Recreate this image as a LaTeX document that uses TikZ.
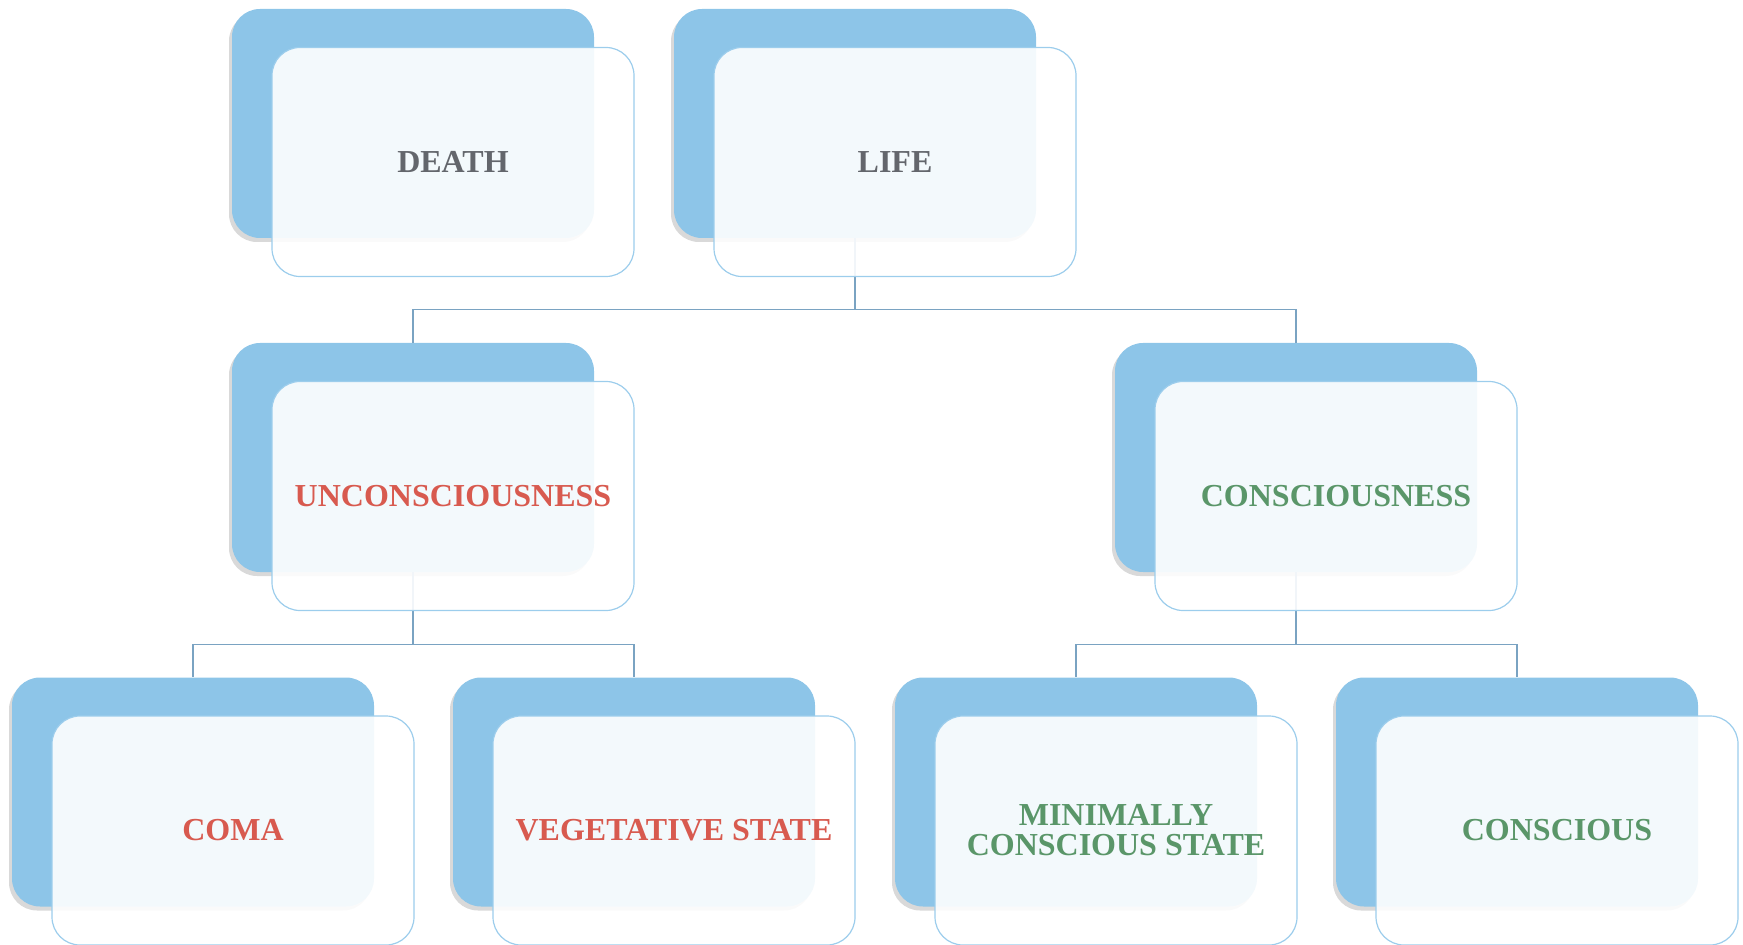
\documentclass[tikz,border=0pt]{standalone}
\usepackage{fontspec}
\setmainfont{Liberation Serif}
\usetikzlibrary{shadows}

\definecolor{cardblue}{HTML}{8DC5E8}
\definecolor{cardline}{HTML}{9CCDEC}
\definecolor{linkblue}{HTML}{7AA3C2}
\definecolor{txtgray}{HTML}{63666C}
\definecolor{txtred}{HTML}{D85A4F}
\definecolor{txtgreen}{HTML}{5A9669}

\tikzset{
	back/.style={rectangle, rounded corners=14pt, minimum width=181pt, minimum height=114.5pt,
		fill=cardblue, draw=none, drop shadow={shadow xshift=-1.5pt, shadow yshift=-2pt, opacity=0.3}},
	card/.style={rectangle, rounded corners=14pt, minimum width=181pt, minimum height=114.5pt,
		draw=cardline, line width=0.6pt, fill=white, fill opacity=0.9, text opacity=1,
		align=center, font=\fontsize{16}{15}\selectfont\bfseries, xshift=20pt, yshift=-19.25pt},
	link/.style={draw=linkblue, line width=0.8pt},
}

\begin{document}
\begin{tikzpicture}[x=0.5pt, y=-0.5pt]
	\useasboundingbox (0,0) rectangle (1743,945);

	% back cards
	\node[back] (deathB) at (413,123.5) {};
	\node[back] (lifeB) at (855,123.5) {};
	\node[back] (unconB) at (413,457.5) {};
	\node[back] (consB) at (1296,457.5) {};
	\node[back] (comaB) at (193,792) {};
	\node[back] (vegB) at (634,792) {};
	\node[back] (mcsB) at (1076,792) {};
	\node[back] (conscB) at (1517,792) {};

	% tree lines
	\draw[link] (lifeB.south) -- ++(0,71) -| (unconB.north);
	\draw[link] (lifeB.south) -- ++(0,71) -| (consB.north);
	\draw[link] (unconB.south) -- ++(0,72) -| (comaB.north);
	\draw[link] (unconB.south) -- ++(0,72) -| (vegB.north);
	\draw[link] (consB.south) -- ++(0,72) -| (mcsB.north);
	\draw[link] (consB.south) -- ++(0,72) -| (conscB.north);

	% front cards
	\node[card, text=txtgray] (death) at (deathB) {DEATH};
	\node[card, text=txtgray] (life) at (lifeB) {LIFE};
	\node[card, text=txtred] (uncon) at (unconB) {UNCONSCIOUSNESS};
	\node[card, text=txtgreen] (cons) at (consB) {CONSCIOUSNESS};
	\node[card, text=txtred] (coma) at (comaB) {COMA};
	\node[card, text=txtred] (veg) at (vegB) {VEGETATIVE STATE};
	\node[card, text=txtgreen] (mcs) at (mcsB) {MINIMALLY\\CONSCIOUS STATE};
	\node[card, text=txtgreen] (consc) at (conscB) {CONSCIOUS};
\end{tikzpicture}
\end{document}
